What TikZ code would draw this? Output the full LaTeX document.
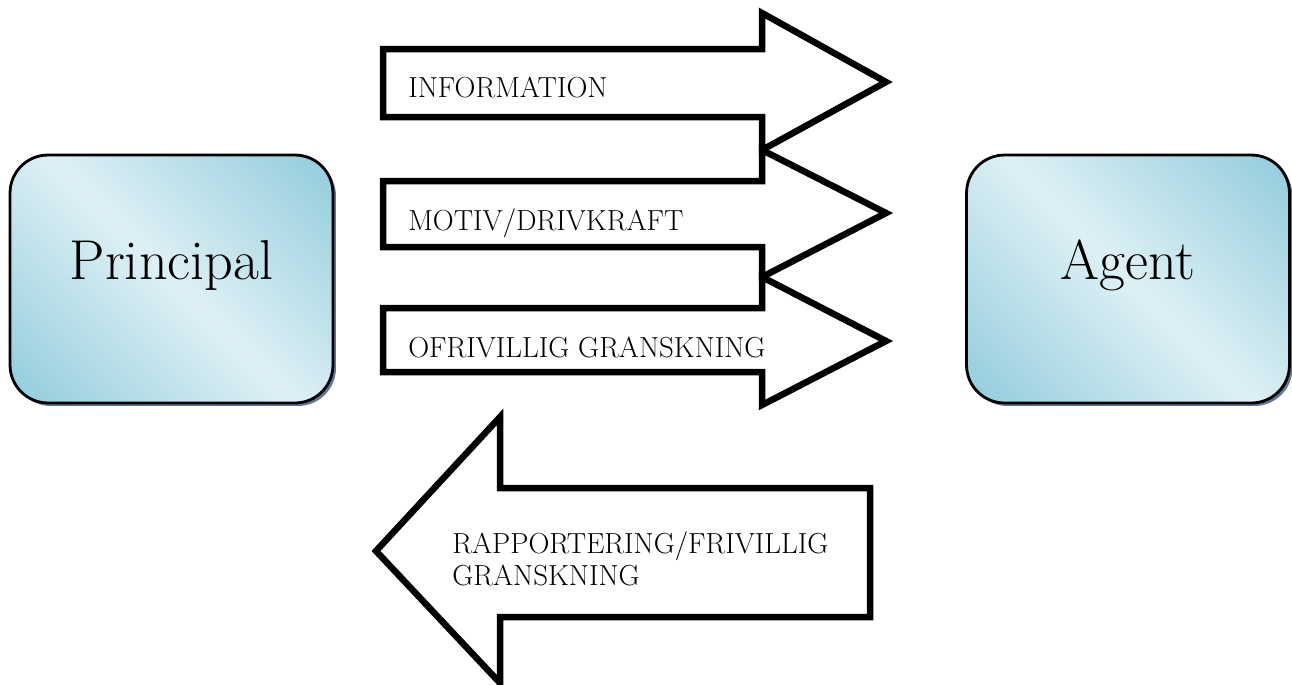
\documentclass[tikz,border=0pt]{standalone}
\usepackage{tikz}
\usetikzlibrary{shadows}

\definecolor{boxdark}{RGB}{146,204,220}
\definecolor{boxlight}{RGB}{222,240,245}
\definecolor{boxshade}{RGB}{96,120,150}

\pgfdeclareverticalshading{rolefade}{100bp}{color(0bp)=(boxdark); color(15bp)=(boxdark);
  color(50bp)=(boxlight); color(85bp)=(boxdark); color(100bp)=(boxdark)}

\tikzset{
  rolebox/.style={draw, line width=1.6pt, rounded corners=0.76cm,
    minimum width=6.46cm, minimum height=4.96cm,
    shade, shading=rolefade, shading angle=-45,
    drop shadow={shadow xshift=0.06cm, shadow yshift=-0.06cm, fill=boxshade, opacity=1},
    text height=10pt, text depth=10pt,
    font=\fontsize{32}{38}\selectfont},
  flowarrow/.style={draw, line width=3.7pt},
  arrowlabel/.style={inner sep=0pt, anchor=base west, font=\fontsize{16.5}{18.2}\selectfont}
}

\begin{document}
\begin{tikzpicture}[x=0.02cm, y=-0.02cm]
    \useasboundingbox (0,0) rectangle (1292,684);

    % the two parties
    \node[rolebox] (principal) at (171.5,279) {Principal};
    \node[rolebox] (agent) at (1128,279) {Agent};

    % principal -> agent
    \draw[flowarrow] (383,49) -- (762,49) -- (762,13) -- (886,82) -- (762,150) -- (762,117) -- (383,117) -- cycle;
    \draw[flowarrow] (383,181) -- (762,181) -- (762,150) -- (886,213) -- (762,277) -- (762,247) -- (383,247) -- cycle;
    \draw[flowarrow] (383,308) -- (762,308) -- (762,277) -- (886,341) -- (762,405) -- (762,372) -- (383,372) -- cycle;

    \node[arrowlabel] (information) at (408,97) {INFORMATION};
    \node[arrowlabel] (motiv) at (408,230) {MOTIV/DRIVKRAFT};
    \node[arrowlabel] (ofrivillig) at (408,357) {OFRIVILLIG GRANSKNING};

    % agent -> principal
    \draw[flowarrow] (870,488) -- (500,488) -- (500,417) -- (376,551) -- (500,683) -- (500,617) -- (870,617) -- cycle;

    \node[arrowlabel, align=left] (rapport) at (452,585) {RAPPORTERING/FRIVILLIG\\GRANSKNING};
\end{tikzpicture}
\end{document}
